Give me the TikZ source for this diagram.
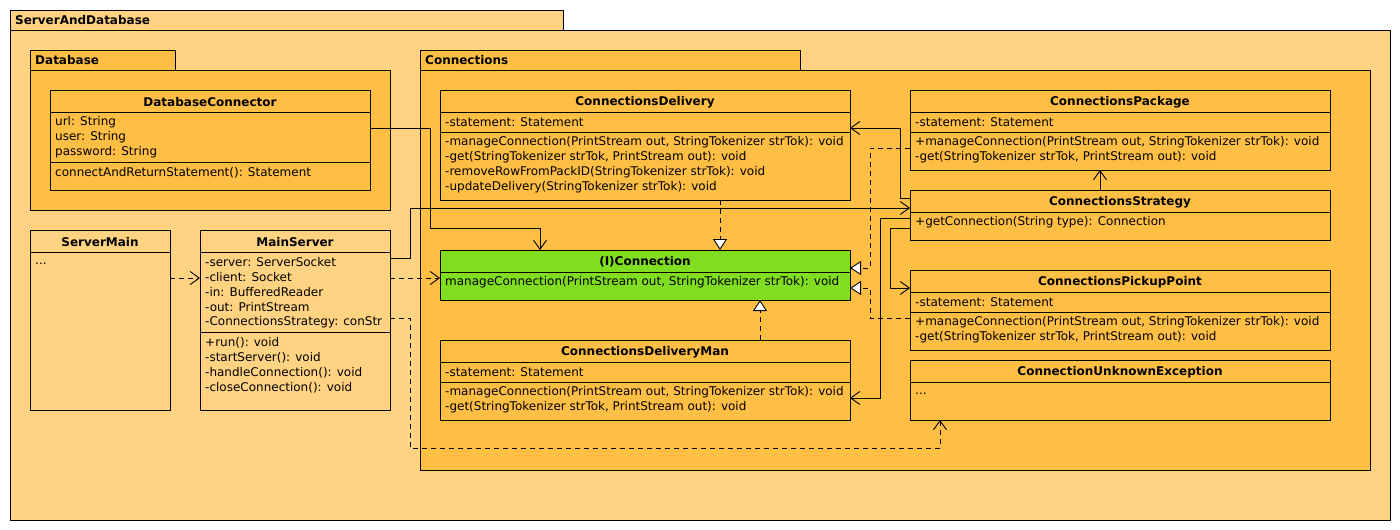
\documentclass[tikz,border=0pt]{standalone}
\usepackage{fontspec}
\setmainfont{DejaVu Sans}
\usetikzlibrary{arrows.meta,calc}
\definecolor{pkglight}{RGB}{255,211,130}
\definecolor{pkgdark}{RGB}{255,190,68}
\definecolor{iface}{RGB}{128,221,32}
\newcommand\umlfont{\fontsize{12}{14}\selectfont}
\tikzset{
  pkgbox/.style={draw, line width=0.9pt, anchor=north west, inner sep=0pt, outer sep=0pt},
  cls/.style={draw, line width=0.9pt, anchor=north west, inner sep=0pt, outer sep=0pt},
  ttl/.style={font=\umlfont\bfseries, anchor=center, inner sep=0pt},
  pkgttl/.style={font=\umlfont\bfseries, anchor=west, inner sep=0pt},
  mem/.style={font=\umlfont, anchor=west, inner sep=0pt},
  sep/.style={line width=0.9pt},
  conn/.style={line width=0.9pt, line join=miter},
  assoc/.style={conn, -{Straight Barb[length=9pt,width=13pt,line width=0.9pt]}},
  dep/.style={assoc, dash pattern=on 5pt off 4pt},
  real/.style={conn, dash pattern=on 5pt off 4pt, -{Triangle[fill=white,length=11pt,width=14pt,line width=0.9pt]}},
}
\begin{document}
\begin{tikzpicture}[x=1pt, y=-1pt]
\useasboundingbox[fill=white] (0,0) rectangle (1400,530);

% ---------- packages ----------
\node[pkgbox, fill=pkglight, minimum width=553pt, minimum height=20pt] (sadTab) at (10,10) {};
\node[pkgbox, fill=pkglight, minimum width=1380pt, minimum height=490pt] (sad) at (10,30) {};
\node[pkgttl] (sadName) at (15,20) {ServerAndDatabase};

\node[pkgbox, fill=pkgdark, minimum width=145pt, minimum height=20pt] (dbTab) at (30,50) {};
\node[pkgbox, fill=pkgdark, minimum width=360pt, minimum height=140pt] (db) at (30,70) {};
\node[pkgttl] (dbName) at (35,60) {Database};

\node[pkgbox, fill=pkgdark, minimum width=380pt, minimum height=20pt] (cnTab) at (420,50) {};
\node[pkgbox, fill=pkgdark, minimum width=950pt, minimum height=400pt] (cn) at (420,70) {};
\node[pkgttl] (cnName) at (425,60) {Connections};

% ---------- DatabaseConnector ----------
\node[cls, fill=pkgdark, minimum width=320pt, minimum height=100pt] (dbc) at (50,90) {};
\node[ttl] (dbcT) at (210,102) {DatabaseConnector};
\draw[sep] (50,112) -- (370,112);
\node[mem] (dbc1) at (55,122.5) {url: String};
\node[mem] (dbc2) at (55,137.5) {user: String};
\node[mem] (dbc3) at (55,152.5) {password: String};
\draw[sep] (50,162) -- (370,162);
\node[mem] (dbc4) at (55,172.5) {connectAndReturnStatement(): Statement};

% ---------- ServerMain ----------
\node[cls, fill=pkglight, minimum width=140pt, minimum height=180pt] (sm) at (30,230) {};
\node[ttl] (smT) at (100,242) {ServerMain};
\draw[sep] (30,252) -- (170,252);
\node[mem] (sm1) at (35,263.5) {...};

% ---------- MainServer ----------
\node[cls, fill=pkglight, minimum width=190pt, minimum height=180pt] (ms) at (200,230) {};
\node[ttl] (msT) at (295,242) {MainServer};
\draw[sep] (200,252) -- (390,252);
\node[mem] (ms1) at (205,262.5) {-server: ServerSocket};
\node[mem] (ms2) at (205,277.5) {-client: Socket};
\node[mem] (ms3) at (205,292.5) {-in: BufferedReader};
\node[mem] (ms4) at (205,307.5) {-out: PrintStream};
\node[mem] (ms5) at (205,322.5) {-ConnectionsStrategy: conStr};
\draw[sep] (200,332) -- (390,332);
\node[mem] (ms6) at (205,342.5) {+run(): void};
\node[mem] (ms7) at (205,357.5) {-startServer(): void};
\node[mem] (ms8) at (205,372.5) {-handleConnection(): void};
\node[mem] (ms9) at (205,387.5) {-closeConnection(): void};

% ---------- ConnectionsDelivery ----------
\node[cls, fill=pkgdark, minimum width=410pt, minimum height=110pt] (cd) at (440,90) {};
\node[ttl] (cdT) at (645,102) {ConnectionsDelivery};
\draw[sep] (440,112) -- (850,112);
\node[mem] (cd1) at (445,122.5) {-statement: Statement};
\draw[sep] (440,132) -- (850,132);
\node[mem] (cd2) at (445,142.5) {-manageConnection(PrintStream out, StringTokenizer strTok): void};
\node[mem] (cd3) at (445,157.5) {-get(StringTokenizer strTok, PrintStream out): void};
\node[mem] (cd4) at (445,172.5) {-removeRowFromPackID(StringTokenizer strTok): void};
\node[mem] (cd5) at (445,187.5) {-updateDelivery(StringTokenizer strTok): void};

% ---------- (I)Connection ----------
\node[cls, fill=iface, minimum width=410pt, minimum height=50pt] (ic) at (440,250) {};
\node[ttl] (icT) at (645,262) {(I)Connection};
\draw[sep] (440,272) -- (850,272);
\node[mem] (ic1) at (445,282.5) {manageConnection(PrintStream out, StringTokenizer strTok): void};

% ---------- ConnectionsDeliveryMan ----------
\node[cls, fill=pkgdark, minimum width=410pt, minimum height=80pt] (cdm) at (440,340) {};
\node[ttl] (cdmT) at (645,352) {ConnectionsDeliveryMan};
\draw[sep] (440,362) -- (850,362);
\node[mem] (cdm1) at (445,372.5) {-statement: Statement};
\draw[sep] (440,382) -- (850,382);
\node[mem] (cdm2) at (445,392.5) {-manageConnection(PrintStream out, StringTokenizer strTok): void};
\node[mem] (cdm3) at (445,407.5) {-get(StringTokenizer strTok, PrintStream out): void};

% ---------- ConnectionsPackage ----------
\node[cls, fill=pkgdark, minimum width=420pt, minimum height=80pt] (cp) at (910,90) {};
\node[ttl] (cpT) at (1120,102) {ConnectionsPackage};
\draw[sep] (910,112) -- (1330,112);
\node[mem] (cp1) at (915,122.5) {-statement: Statement};
\draw[sep] (910,132) -- (1330,132);
\node[mem] (cp2) at (915,142.5) {+manageConnection(PrintStream out, StringTokenizer strTok): void};
\node[mem] (cp3) at (915,157.5) {-get(StringTokenizer strTok, PrintStream out): void};

% ---------- ConnectionsStrategy ----------
\node[cls, fill=pkgdark, minimum width=420pt, minimum height=50pt] (cs) at (910,190) {};
\node[ttl] (csT) at (1120,202) {ConnectionsStrategy};
\draw[sep] (910,212) -- (1330,212);
\node[mem] (cs1) at (915,222.5) {+getConnection(String type): Connection};

% ---------- ConnectionsPickupPoint ----------
\node[cls, fill=pkgdark, minimum width=420pt, minimum height=80pt] (cpp) at (910,270) {};
\node[ttl] (cppT) at (1120,282) {ConnectionsPickupPoint};
\draw[sep] (910,292) -- (1330,292);
\node[mem] (cpp1) at (915,302.5) {-statement: Statement};
\draw[sep] (910,312) -- (1330,312);
\node[mem] (cpp2) at (915,322.5) {+manageConnection(PrintStream out, StringTokenizer strTok): void};
\node[mem] (cpp3) at (915,337.5) {-get(StringTokenizer strTok, PrintStream out): void};

% ---------- ConnectionUnknownException ----------
\node[cls, fill=pkgdark, minimum width=420pt, minimum height=60pt] (cue) at (910,360) {};
\node[ttl] (cueT) at (1120,372) {ConnectionUnknownException};
\draw[sep] (910,382) -- (1330,382);
\node[mem] (cue1) at (915,393.5) {...};

% ---------- bend points ----------
\coordinate (b1) at (430,128);
\coordinate (b2) at (430,228);
\coordinate (b3) at (540,228);
\coordinate (b4) at (410,258);
\coordinate (b5) at (410,208);
\coordinate (b6) at (410,318);
\coordinate (b7) at (410,448);
\coordinate (b8) at (940,448);
\coordinate (b9) at (870,148);
\coordinate (b10) at (870,268);
\coordinate (b11) at (870,318);
\coordinate (b12) at (870,288);
\coordinate (b13) at (900,198);
\coordinate (b14) at (900,128);
\coordinate (b15) at (890,228);
\coordinate (b16) at (890,288);
\coordinate (b17) at (880,218);
\coordinate (b18) at (880,398);

% ---------- connectors ----------
\draw[assoc] ($(dbc.north east)+(0,38)$) -- (b1) -- (b2) -- (b3) -- ($(ic.north west)+(100,0)$);
\draw[assoc] ($(ms.north east)+(0,28)$) -- (b4) -- (b5) -- ($(cs.north west)+(0,18)$);
\draw[dep] ($(sm.north east)+(0,48)$) -- ($(ms.north west)+(0,48)$);
\draw[dep] ($(ms.north east)+(0,48)$) -- ($(ic.north west)+(0,28)$);
\draw[dep] ($(ms.north east)+(0,88)$) -- (b6) -- (b7) -- (b8) -- ($(cue.south west)+(30,0)$);
\draw[real] ($(cd.south west)+(280,0)$) -- ($(ic.north west)+(280,0)$);
\draw[real] ($(cdm.north west)+(320,0)$) -- ($(ic.south west)+(320,0)$);
\draw[real] ($(cp.north west)+(0,58)$) -- (b9) -- (b10) -- ($(ic.north east)+(0,18)$);
\draw[real] ($(cpp.north west)+(0,48)$) -- (b11) -- (b12) -- ($(ic.north east)+(0,38)$);
\draw[assoc] ($(cs.north west)+(0,8)$) -- (b13) -- (b14) -- ($(cd.north east)+(0,38)$);
\draw[assoc] ($(cs.north west)+(190,0)$) -- ($(cp.south west)+(190,0)$);
\draw[assoc] ($(cs.north west)+(0,38)$) -- (b15) -- (b16) -- ($(cpp.north west)+(0,18)$);
\draw[assoc] ($(cs.north west)+(0,28)$) -- (b17) -- (b18) -- ($(cdm.north east)+(0,58)$);
\end{tikzpicture}
\end{document}
